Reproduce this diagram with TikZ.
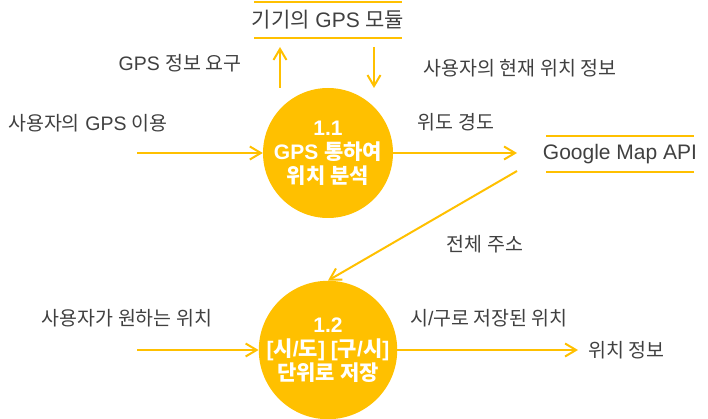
\documentclass[tikz,border=0pt]{standalone}
\usepackage{fontspec}
\setmainfont{Liberation Sans}
\newfontfamily\kr{Noto Sans CJK KR}
\usetikzlibrary{arrows.meta}
\definecolor{gold}{RGB}{255,192,0}
\definecolor{ink}{RGB}{64,64,64}

\tikzset{store/.style={text=ink,font=\fontsize{21}{24}\selectfont,append after command={
		([xshift=-74pt,yshift=18pt]\tikzlastnode.center) edge[draw=gold,line width=2pt] ([xshift=74pt,yshift=18pt]\tikzlastnode.center)
		([xshift=-74pt,yshift=-18pt]\tikzlastnode.center) edge[draw=gold,line width=2pt] ([xshift=74pt,yshift=-18pt]\tikzlastnode.center)
		}
	}
}
\tikzstyle{process}=[circle,fill=gold,minimum size=130pt,inner sep=0pt,text=white,align=center,font=\bfseries\fontsize{21}{24}\selectfont]
\tikzstyle{flowtext}=[text=ink,font=\fontsize{19.5}{22}\selectfont]
\tikzstyle{flow}=[draw=gold,line width=2pt]

\begin{document}
\begin{tikzpicture}[x=1pt,y=-1pt]
			\useasboundingbox (0,0) rectangle (708,419);
			\begin{scope}[>={Straight Barb[length=11pt,width=13pt]}]
				\node (mod)[store]    at (328,20)  {{\kr 기기의} GPS {\kr 모듈}};
				\node (api)[store]    at (620,154) {Google Map API};
				
				\node (p1)[process]   at (328,153) {1.1\\ GPS {\kr 통하여}\\ {\kr 위치 분석}};
				\node (p2)[process]   at (328,350) {1.2\\ {[}{\kr 시}/{\kr 도}{]} {[}{\kr 구}/{\kr 시}{]}\\ {\kr 단위로 저장}};
				
				\node (tReq)[flowtext]   at (180,63)  {GPS {\kr 정보 요구}};
				\node (tCur)[flowtext]   at (520,68)  {\kr 사용자의 현재 위치 정보};
				\node (tUse)[flowtext]   at (88,123)  {{\kr 사용자의} GPS {\kr 이용}};
				\node (tLat)[flowtext]   at (456,122) {\kr 위도 경도};
				\node (tAddr)[flowtext]  at (485,244) {\kr 전체 주소};
				\node (tWant)[flowtext]  at (127,318) {\kr 사용자가 원하는 위치};
				\node (tSaved)[flowtext] at (489,318) {{\kr 시}/{\kr 구로 저장된 위치}};
				\node (out)[flowtext,anchor=west,inner xsep=10pt] at (578,350) {\kr 위치 정보};
				
				\coordinate (in1)   at (137,153);
				\coordinate (in2)   at (137,350);
				\coordinate (up0)   at (280,88);
				\coordinate (up1)   at (280,47);
				\coordinate (dn0)   at (374,47);
				\coordinate (dn1)   at (374,88);
				\coordinate (lat)   at (517,153);
				\coordinate (addr)  at (517,171);
				
				\draw[->,flow] (in1) -- (p1);
				\draw[->,flow] (up0) -- (up1);
				\draw[->,flow] (dn0) -- (dn1);
				\draw[->,flow] (p1) -- (lat);
				\draw[->,flow] (addr) -- (p2.north);
				\draw[->,flow] (in2) -- (p2);
				\draw[->,flow] (p2) -- (out.west);
			\end{scope}
		\end{tikzpicture}
\end{document}
